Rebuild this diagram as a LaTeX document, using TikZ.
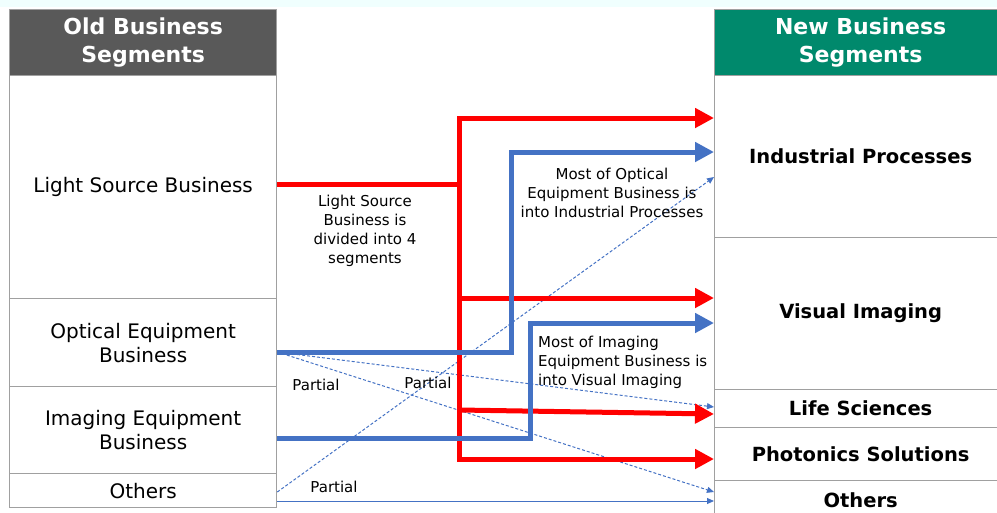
\documentclass[tikz,border=0pt]{standalone}
\usepackage{fontspec}
\setmainfont{DejaVu Sans}
\usetikzlibrary{arrows.meta,calc}
\definecolor{hdrgray}{HTML}{595959}
\definecolor{hdrgreen}{HTML}{00896C}
\definecolor{cellline}{HTML}{A0A0A0}
\definecolor{myblue}{HTML}{4472C4}
\definecolor{myred}{HTML}{FF0000}
\definecolor{topstrip}{HTML}{F0FFFE}
\tikzset{
  cell/.style={draw=cellline, line width=1.3pt, fill=white, anchor=north west, inner sep=0pt, align=center,
    font=\fontsize{20}{24}\selectfont},
  rcell/.style={cell, font=\fontsize{19.5}{24}\bfseries\selectfont},
  hdr/.style={cell, text=white, font=\fontsize{22}{28}\bfseries\selectfont},
  bigred/.style={draw=myred, line width=5pt, -{Triangle[length=19pt,width=19pt]}},
  bigredplain/.style={draw=myred, line width=5pt},
  bigblue/.style={draw=myblue, line width=5pt, -{Triangle[length=19pt,width=19pt]}},
  thinblue/.style={draw=myblue, line width=1pt, -{Triangle[length=7pt,width=6pt]}},
  dashblue/.style={thinblue, dash pattern=on 3pt off 2pt},
  lbl/.style={align=center, font=\fontsize{15}{19}\selectfont, inner sep=0pt},
}
\begin{document}
\begin{tikzpicture}[x=1pt,y=-1pt]
\useasboundingbox (0,0) rectangle (997,512);
\clip (0,0) rectangle (997,512);
\fill[topstrip] (0,0) rectangle (997,7);

% left column
\node[hdr, fill=hdrgray, minimum width=267pt, minimum height=66pt] (oh) at (9,9) {Old Business\\Segments};
\node[cell, minimum width=267pt, minimum height=223pt] (ls) at (9,75) {Light Source Business};
\node[cell, minimum width=267pt, minimum height=88pt] (oe) at (9,298) {Optical Equipment\\Business};
\node[cell, minimum width=267pt, minimum height=87pt] (ie) at (9,386) {Imaging Equipment\\Business};
\node[cell, minimum width=267pt, minimum height=34pt] (ot) at (9,473) {Others};

% right column
\node[hdr, fill=hdrgreen, minimum width=292pt, minimum height=66pt] (nh) at (714,9) {New Business\\Segments};
\node[rcell, minimum width=292pt, minimum height=162pt] (ip) at (714,75) {Industrial Processes};
\node[rcell, minimum width=292pt, minimum height=152pt] (vi) at (714,237) {Visual Imaging};
\node[rcell, minimum width=292pt, minimum height=38pt] (lsc) at (714,389) {Life Sciences};
\node[rcell, minimum width=292pt, minimum height=53pt] (ps) at (714,427) {Photonics Solutions};
\node[rcell, minimum width=292pt, minimum height=40pt] (no) at (714,480) {Others};

% junction coordinates
\coordinate (rj) at (459,184);
\coordinate (ob) at (511,352);
\coordinate (ib) at (530,438);

% thin blue links
\draw[dashblue] (oe.east |- 0,352) -- (lsc.west |- 0,407);
\draw[dashblue] (oe.east |- 0,352) -- (no.west |- 0,492);
\draw[dashblue] (ot.east |- 0,492) -- (ip.west |- 0,177);
\draw[thinblue] (ot.east |- 0,501) -- (no.west |- 0,501);

% red tree
\draw[bigredplain] (ls.east |- rj) -- (rj);
\draw[bigred] (rj |- 0,118) -- (ip.west |- 0,118);
\draw[bigredplain, line cap=rect] (rj |- 0,118) -- (rj |- 0,459);
\draw[bigred] (rj |- 0,298) -- (vi.west |- 0,298);
\draw[bigred] (rj |- 0,410) -- (lsc.west |- 0,414);
\draw[bigred] (rj |- 0,459) -- (ps.west |- 0,459);

% blue thick
\draw[bigblue, line join=miter] (oe.east |- ob) -- (ob) -- (ob |- 0,152) -- (ip.west |- 0,152);
\draw[bigblue, line join=miter] (ie.east |- ib) -- (ib) -- (ib |- 0,323) -- (vi.west |- 0,323);

% labels
\node[lbl] (l1) at (365,231) {Light Source\\Business is\\divided into 4\\segments};
\node[lbl] (l2) at (612,193) {Most of Optical\\Equipment Business is\\into Industrial Processes};
\node[lbl, align=left, anchor=west] (l3) at (538,362) {Most of Imaging\\Equipment Business is\\into Visual Imaging};
\node[lbl] (p1) at (316,385) {Partial};
\node[lbl] (p2) at (428,383) {Partial};
\node[lbl] (p3) at (334,487) {Partial};
\end{tikzpicture}
\end{document}
